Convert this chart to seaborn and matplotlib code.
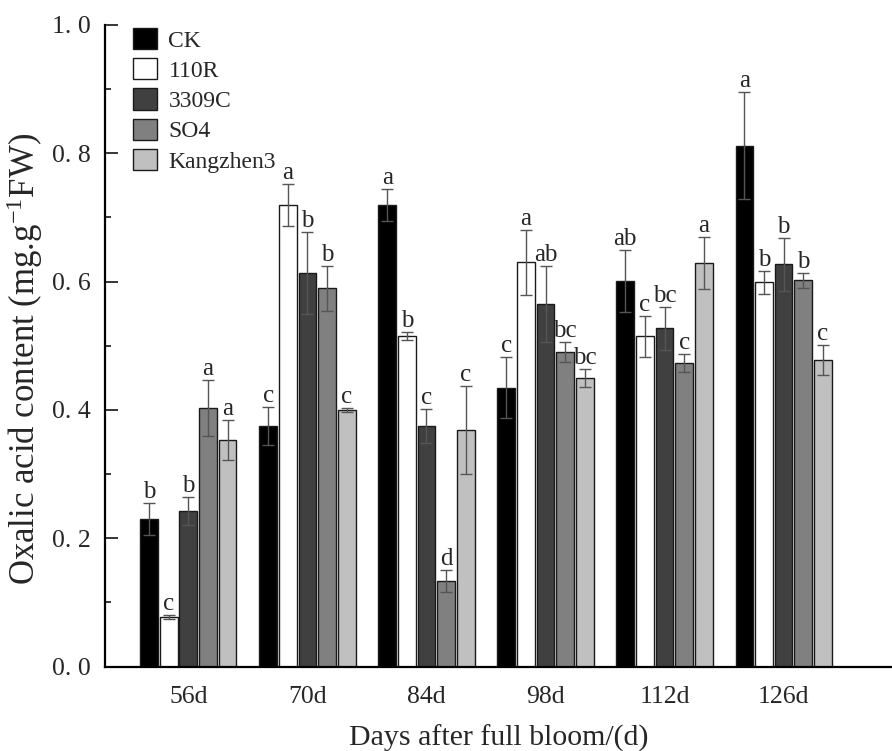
import numpy as np
import pandas as pd
import matplotlib
matplotlib.use("Agg")
import matplotlib.pyplot as plt
from matplotlib.ticker import MultipleLocator, FixedLocator, FuncFormatter
import seaborn as sns

# ---------------- data ----------------
days = ["56d", "70d", "84d", "98d", "112d", "126d"]
rootstocks = ["CK", "110R", "3309C", "SO4", "Kangzhen3"]

ck_vals = [0.230, 0.375, 0.719, 0.435, 0.601, 0.812]
r110_vals = [0.077, 0.719, 0.515, 0.630, 0.515, 0.599]
c3309_vals = [0.242, 0.614, 0.375, 0.565, 0.527, 0.627]
so4_vals = [0.403, 0.590, 0.134, 0.490, 0.473, 0.602]
kz3_vals = [0.353, 0.400, 0.369, 0.450, 0.629, 0.478]

ck_err = [0.025, 0.030, 0.025, 0.047, 0.048, 0.084]
r110_err = [0.003, 0.033, 0.006, 0.051, 0.032, 0.018]
c3309_err = [0.022, 0.064, 0.026, 0.059, 0.033, 0.041]
so4_err = [0.044, 0.035, 0.017, 0.016, 0.014, 0.012]
kz3_err = [0.031, 0.003, 0.069, 0.014, 0.041, 0.024]

ck_sig = ["b", "c", "a", "c", "ab", "a"]
r110_sig = ["c", "a", "b", "a", "c", "b"]
c3309_sig = ["b", "b", "c", "ab", "bc", "b"]
so4_sig = ["a", "b", "d", "bc", "c", "b"]
kz3_sig = ["a", "c", "c", "bc", "a", "c"]

yticks_major = [0.0, 0.2, 0.4, 0.6, 0.8, 1.0]

values = [ck_vals, r110_vals, c3309_vals, so4_vals, kz3_vals]
errors = [ck_err, r110_err, c3309_err, so4_err, kz3_err]
sigs = [ck_sig, r110_sig, c3309_sig, so4_sig, kz3_sig]
colors = ["#000000", "#ffffff", "#404040", "#808080", "#c0c0c0"]

rows = []
for rs, vals in zip(rootstocks, values):
    for d, v in zip(days, vals):
        rows.append({"day": d, "rootstock": rs, "value": v})
df = pd.DataFrame(rows)

# ---------------- style ----------------
sns.set_style("white")
plt.rcParams["font.family"] = ["Liberation Serif", "DejaVu Serif"]
plt.rcParams["mathtext.fontset"] = "custom"
plt.rcParams["mathtext.rm"] = "Liberation Serif"
plt.rcParams["mathtext.it"] = "Liberation Serif:italic"
plt.rcParams["mathtext.bf"] = "Liberation Serif:bold"

fig = plt.figure(figsize=(8.92, 7.51), dpi=100)
ax = fig.add_axes([0.1177, 0.1123, 0.8823, 0.8545])

sns.barplot(data=df, x="day", y="value", hue="rootstock", order=days,
            hue_order=rootstocks, palette=dict(zip(rootstocks, colors)),
            errorbar=None, width=0.825, gap=0.1, edgecolor="#1a1a1a",
            linewidth=1.0, ax=ax)

for cont, vals, errs, sg in zip(ax.containers, values, errors, sigs):
    xs = [p.get_x() + p.get_width() / 2 for p in cont.patches]
    ax.errorbar(xs, vals, yerr=errs, fmt="none", ecolor="#555555",
                elinewidth=1.0, capsize=4.4, capthick=1.0, zorder=5)
    for x, v, e, s in zip(xs, vals, errs, sg):
        ax.annotate(s, (x, v + e), xytext=(0, 3.5), textcoords="offset points",
                    ha="center", va="baseline", fontsize=18)

ax.set_ylim(0, 1.0)
ax.set_xlim(-0.70, 5.91)
ax.yaxis.set_major_locator(FixedLocator(yticks_major))
ax.yaxis.set_minor_locator(MultipleLocator(0.1))
ax.yaxis.set_major_formatter(FuncFormatter(lambda v, p: f"{v:.1f}".replace(".", ". ")))

for side in ["top", "right"]:
    ax.spines[side].set_visible(False)
for side in ["left", "bottom"]:
    ax.spines[side].set_linewidth(1.6)
    ax.spines[side].set_color("black")

ax.tick_params(axis="y", which="major", direction="in", length=9.5, width=1.1,
               labelsize=18.5, pad=10, left=True, color="black")
ax.tick_params(axis="y", which="minor", direction="in", length=4.5, width=1.1,
               left=True, color="black")
ax.tick_params(axis="x", which="major", direction="in", length=8, width=1.1,
               labelsize=18.5, pad=14, bottom=True, color="black")

ax.set_xlabel("Days after full bloom/(d)", fontsize=21.5, labelpad=12)
ax.set_ylabel("Oxalic acid content (mg.g$^{-1}$FW)", fontsize=25)
ax.yaxis.set_label_coords(-0.076, 0.479)

leg = ax.legend(loc="upper left", bbox_to_anchor=(0.0356, 0.9953), frameon=False,
                fontsize=17, handlelength=1.0, handleheight=1.0,
                labelspacing=0.28, handletextpad=0.5, borderpad=0,
                borderaxespad=0)
for h in leg.legend_handles:
    h.set_edgecolor("#1a1a1a")
    h.set_linewidth(1.0)

fig.savefig("out.png", dpi=100)
